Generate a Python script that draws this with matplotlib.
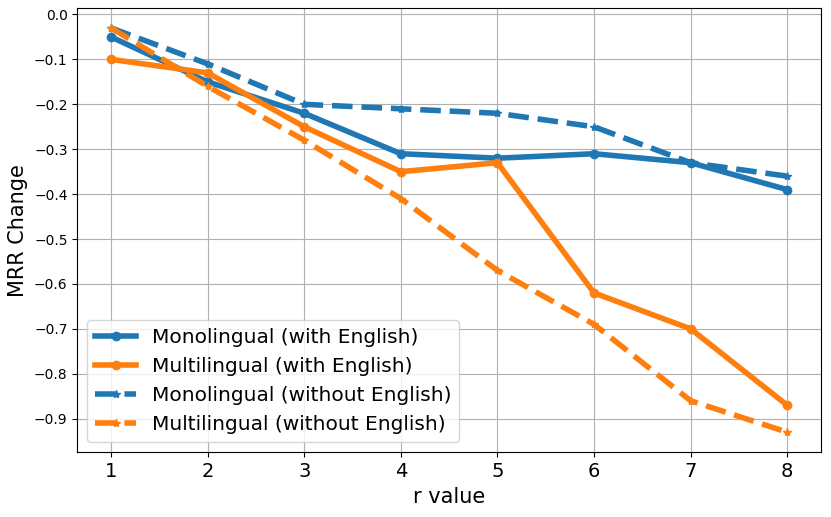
import matplotlib
matplotlib.use("Agg")
import matplotlib.pyplot as plt
from matplotlib.ticker import MultipleLocator

r_values = [1, 2, 3, 4, 5, 6, 7, 8]
mono_with = [-0.05, -0.15, -0.22, -0.31, -0.32, -0.31, -0.33, -0.39]
multi_with = [-0.10, -0.13, -0.25, -0.35, -0.33, -0.62, -0.70, -0.87]
mono_without = [-0.03, -0.11, -0.20, -0.21, -0.22, -0.25, -0.33, -0.36]
multi_without = [-0.03, -0.16, -0.28, -0.41, -0.57, -0.69, -0.86, -0.93]

fig, ax = plt.subplots(figsize=(8.31, 5.17), dpi=100)
lw = 4
ax.plot(r_values, mono_with, color="#1f77b4", marker="o", lw=lw, label="Monolingual (with English)")
ax.plot(r_values, multi_with, color="#ff7f0e", marker="o", lw=lw, label="Multilingual (with English)")
ax.plot(r_values, mono_without, color="#1f77b4", marker="*", ls="--", lw=lw, label="Monolingual (without English)")
ax.plot(r_values, multi_without, color="#ff7f0e", marker="*", ls="--", lw=lw, label="Multilingual (without English)")

ax.grid(True)
ax.set_xticks(r_values)
ax.yaxis.set_major_locator(MultipleLocator(0.1))
ax.tick_params(axis="x", labelsize=14)
ax.tick_params(axis="y", labelsize=10)
ax.set_xlabel("r value", fontsize=15)
ax.set_ylabel("MRR Change", fontsize=15)
ax.legend(loc="lower left", fontsize=14.5)
fig.subplots_adjust(left=0.093, right=0.988, top=0.985, bottom=0.125)
fig.savefig("out.png", dpi=100)
